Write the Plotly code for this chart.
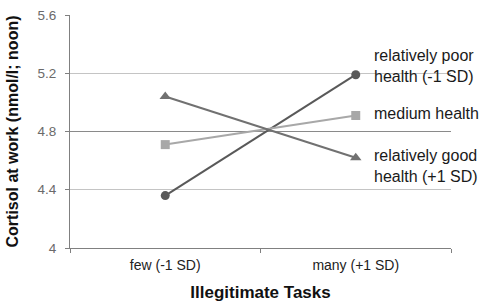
import plotly.graph_objects as go

categories = ["few (-1 SD)", "many (+1 SD)"]
poor = [4.36, 5.19]
medium = [4.71, 4.91]
good = [5.04, 4.62]
series_names = ["relatively poor<br>health (-1 SD)", "medium health", "relatively good<br>health (+1 SD)"]
y_ticks = [4.0, 4.4, 4.8, 5.2, 5.6]
y_tick_labels = ["4", "4.4", "4.8", "5.2", "5.6"]

fig = go.Figure()
styles = [
    (poor, "#595959", "circle", 9),
    (medium, "#a8a8a8", "square", 9),
    (good, "#717171", "triangle-up", 10),
]
for (vals, col, sym, sz), name in zip(styles, series_names):
    fig.add_trace(go.Scatter(
        x=categories, y=vals, mode="lines+markers", name=name,
        line=dict(color=col, width=2),
        marker=dict(symbol=sym, size=sz, color=col),
        showlegend=False, cliponaxis=False,
    ))

# darker gridlines at 4.0, 4.8, 5.6 via overlay axis
fig.add_trace(go.Scatter(x=categories, y=[None, None], yaxis="y2", showlegend=False, hoverinfo="skip"))

label_y = [0.779, 0.579, 0.354]
for name, yy in zip(series_names, label_y):
    fig.add_annotation(
        text=name, xref="paper", yref="paper", x=0.793, y=yy,
        xanchor="left", yanchor="middle", showarrow=False, align="left",
        font=dict(family="Liberation Sans, Arial", size=16, color="#1a1a1a"),
    )

fig.update_layout(
    width=490, height=305,
    margin=dict(l=70, r=39, t=8, b=57),
    paper_bgcolor="white", plot_bgcolor="white",
    font=dict(family="Liberation Sans, Arial"),
    xaxis=dict(
        type="category", categoryorder="array", categoryarray=categories,
        range=[-0.5, 1.5], automargin=False,
        showgrid=False, showline=True, linecolor="#808080", linewidth=1,
        ticks="outside", tickson="boundaries", ticklen=4, tickcolor="#808080",
        ticklabelstandoff=4,
        tickfont=dict(size=14, color="#222222"),
        title=dict(text="<b>Illegitimate Tasks</b>", font=dict(size=17, color="#111111"), standoff=14),
    ),
    yaxis=dict(
        range=[4.0, 5.6], tickvals=y_ticks, ticktext=y_tick_labels,
        showgrid=True, gridcolor="#c4c4c4", gridwidth=1,
        showline=True, linecolor="#808080", linewidth=1,
        ticks="outside", ticklen=4, tickcolor="#808080",
        ticklabelstandoff=6,
        tickfont=dict(size=13.5, color="#6a6a6a"),
        zeroline=False,
        title=dict(text="<b>Cortisol at work (nmol/l; noon)</b>", font=dict(size=16, color="#111111"), standoff=14),
    ),
    yaxis2=dict(
        range=[4.0, 5.6], overlaying="y", side="left", tickvals=[4.0, 4.8, 5.6],
        showgrid=True, gridcolor="#8a8a8a", gridwidth=1, showticklabels=False,
        zeroline=False, showline=False, layer="below traces",
    ),
)

fig.write_html("out.html")
